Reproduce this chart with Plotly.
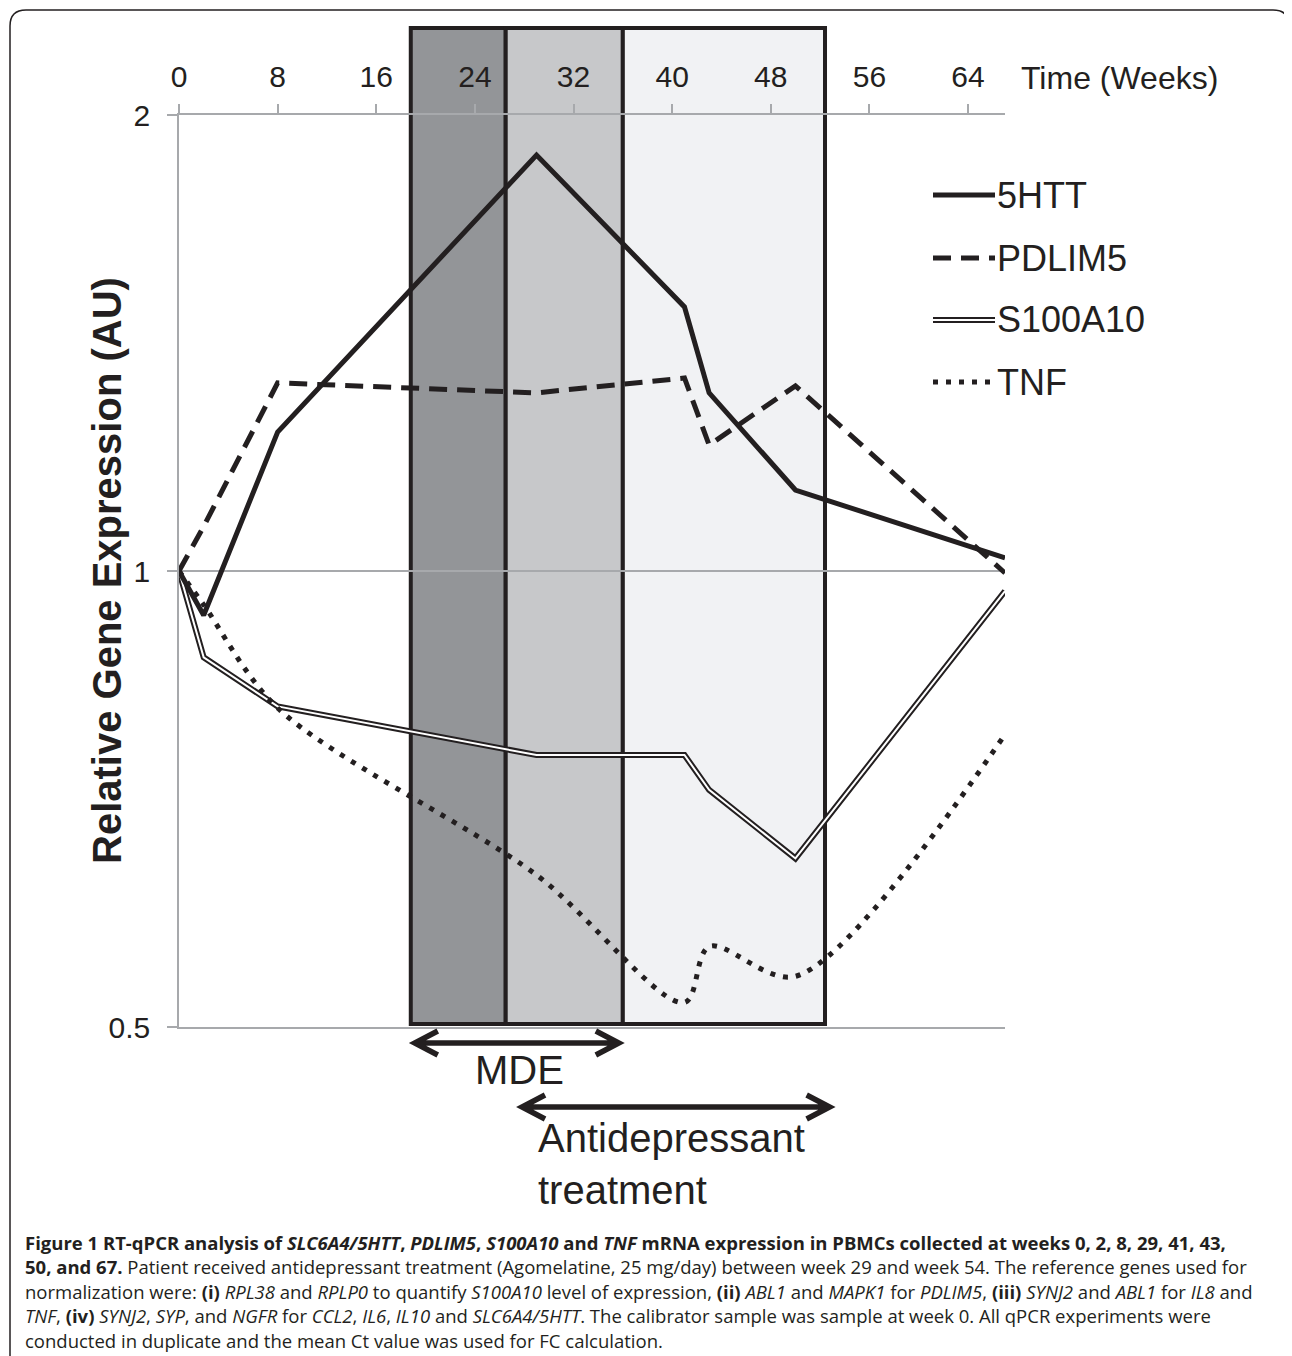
import plotly.graph_objects as go
import math

# ---------------- data ----------------
weeks = [0, 2, 8, 29, 41, 43, 50, 67]
htt5 = [1.00, 0.935, 1.235, 1.882, 1.494, 1.311, 1.131, 1.020]
pdlim5 = [1.00, 1.07, 1.331, 1.311, 1.341, 1.211, 1.325, 0.997]
s100a10 = [1.00, 0.877, 0.814, 0.756, 0.756, 0.717, 0.646, 0.970]
tnf = [1.00, 0.95, 0.812, 0.630, 0.519, 0.565, 0.540, 0.780]

x_ticks = [0, 8, 16, 24, 32, 40, 48, 56, 64]
y_ticks = [0.5, 1, 2]
y_ticktext = ["0.5", "1", "2"]

band_edges = [18.8, 26.5, 36.0, 52.4]          # weeks
band_colors = ["#939598", "#c7c8ca", "#f1f2f4"]
mde_weeks = [18.8, 36.0]
treatment_weeks = [27.5, 53.1]

legend_names = ["5HTT", "PDLIM5", "S100A10", "TNF"]

# ---------------- layout geometry (reference window pixels) ----------------
OFF = 8                      # page body margin
FW, FH = 1292 - OFF, 1356 - OFF
L, R, T, B = 179, 1005, 115, 1027
PW, PH = R - L, B - T
X_RANGE = [0, 67]
PX_PER_WEEK = PW / (X_RANGE[1] - X_RANGE[0])


def px_x(px):
    return (px - L) / PW


def px_y(py):
    return (B - py) / PH


INK = "#231f20"
GRID = "#a7a9ac"
FONT = "Liberation Sans, Arial, sans-serif"
CAP_FONT = "Open Sans, sans-serif"
DOT = "5px,8px"
DASH = "18px,10px"

fig = go.Figure()

# S100A10 double line
fig.add_trace(go.Scatter(x=weeks, y=s100a10, mode="lines", name="S100A10",
                         line=dict(color=INK, width=6), showlegend=False))
fig.add_trace(go.Scatter(x=weeks, y=s100a10, mode="lines", name="S100A10 inner",
                         line=dict(color="white", width=2), showlegend=False))
fig.add_trace(go.Scatter(x=weeks, y=tnf, mode="lines", name="TNF",
                         line=dict(color=INK, width=5, dash=DOT,
                                   shape="spline", smoothing=0.9),
                         showlegend=False))
fig.add_trace(go.Scatter(x=weeks, y=pdlim5, mode="lines", name="PDLIM5",
                         line=dict(color=INK, width=5, dash=DASH),
                         showlegend=False))
fig.add_trace(go.Scatter(x=weeks, y=htt5, mode="lines", name="5HTT",
                         line=dict(color=INK, width=5), showlegend=False))

shapes = []
annotations = []

# shaded period bands
for i in range(3):
    shapes.append(dict(type="rect", xref="x", yref="paper",
                       x0=band_edges[i], x1=band_edges[i + 1],
                       y0=px_y(1024), y1=px_y(28),
                       fillcolor=band_colors[i],
                       line=dict(color=INK, width=4), layer="between"))


# double arrows (tips inset slightly to compensate for the miter join)
def dbl_arrow(x0, x1, ypx):
    y = px_y(ypx)
    inset = 4 / PX_PER_WEEK
    x0, x1 = x0 + inset, x1 - inset
    dx = 23 / PX_PER_WEEK
    dy = 12 / PH
    path = (f"M {x0 + dx},{y + dy} L {x0},{y} L {x0 + dx},{y - dy} "
            f"M {x0},{y} L {x1},{y} "
            f"M {x1 - dx},{y + dy} L {x1},{y} L {x1 - dx},{y - dy}")
    return dict(type="path", xref="x", yref="paper", path=path,
                line=dict(color=INK, width=5.5), layer="above")


shapes.append(dbl_arrow(mde_weeks[0], mde_weeks[1], 1043))
shapes.append(dbl_arrow(treatment_weeks[0], treatment_weeks[1], 1107))

annotations.append(dict(text="MDE", xref="paper", yref="paper",
                        x=px_x(519), y=px_y(1070), xanchor="center", yanchor="middle",
                        showarrow=False, font=dict(family=FONT, size=40, color=INK)))
annotations.append(dict(text="Antidepressant<br>treatment", xref="paper", yref="paper",
                        x=px_x(536), y=px_y(1164), xanchor="left", yanchor="middle",
                        align="left", showarrow=False,
                        font=dict(family=FONT, size=40, color=INK)))

# axis title texts
annotations.append(dict(text="Time (Weeks)", xref="paper", yref="paper",
                        x=px_x(1019), y=px_y(78), xanchor="left", yanchor="middle",
                        showarrow=False, font=dict(family=FONT, size=32, color=INK)))
annotations.append(dict(text="<b>Relative Gene Expression (AU)</b>", xref="paper", yref="paper",
                        x=px_x(107), y=0.5, xanchor="center", yanchor="middle",
                        textangle=-90, showarrow=False,
                        font=dict(family=FONT, size=40, color=INK)))

# custom legend
leg_y = [195, 258, 320, 382]
lx0, lx1 = px_x(933), px_x(995)
styles = [dict(color=INK, width=5), dict(color=INK, width=5, dash=DASH),
          None, dict(color=INK, width=5, dash=DOT)]
for name, ypx, st in zip(legend_names, leg_y, styles):
    yy = px_y(ypx)
    if st is None:
        shapes.append(dict(type="line", xref="paper", yref="paper", x0=lx0, x1=lx1,
                           y0=yy, y1=yy, line=dict(color=INK, width=6)))
        shapes.append(dict(type="line", xref="paper", yref="paper", x0=lx0, x1=lx1,
                           y0=yy, y1=yy, line=dict(color="white", width=2)))
    else:
        shapes.append(dict(type="line", xref="paper", yref="paper", x0=lx0, x1=lx1,
                           y0=yy, y1=yy, line=st))
    annotations.append(dict(text=name, xref="paper", yref="paper",
                            x=px_x(995), y=yy, xanchor="left", yanchor="middle",
                            showarrow=False, font=dict(family=FONT, size=36, color=INK)))

# rounded outer frame
fx0, fx1, fy0, fy1, rr = 10, 1289, 10, 1400, 16
frame = (f"M {px_x(fx0)},{px_y(fy1)} L {px_x(fx0)},{px_y(fy0 + rr)} "
         f"Q {px_x(fx0)},{px_y(fy0)} {px_x(fx0 + rr)},{px_y(fy0)} "
         f"L {px_x(fx1 - rr)},{px_y(fy0)} "
         f"Q {px_x(fx1)},{px_y(fy0)} {px_x(fx1)},{px_y(fy0 + rr)} "
         f"L {px_x(fx1)},{px_y(fy1)}")
shapes.append(dict(type="path", xref="paper", yref="paper", path=frame,
                   line=dict(color=INK, width=1.5), layer="below"))

# caption
caption_lines = [
    "<b>Figure 1 RT-qPCR analysis of <i>SLC6A4/5HTT</i>, <i>PDLIM5</i>, <i>S100A10</i> and <i>TNF</i> "
    "mRNA expression in PBMCs collected at weeks 0, 2, 8, 29, 41, 43,</b>",
    "<b>50, and 67.</b> Patient received antidepressant treatment (Agomelatine, 25 mg/day) "
    "between week 29 and week 54. The reference genes used for",
    "normalization were: <b>(i)</b> <i>RPL38</i> and <i>RPLP0</i> to quantify <i>S100A10</i> level of "
    "expression, <b>(ii)</b> <i>ABL1</i> and <i>MAPK1</i> for <i>PDLIM5</i>, <b>(iii)</b> <i>SYNJ2</i> "
    "and <i>ABL1</i> for <i>IL8</i> and",
    "<i>TNF</i>, <b>(iv)</b> <i>SYNJ2</i>, <i>SYP</i>, and <i>NGFR</i> for <i>CCL2</i>, <i>IL6</i>, "
    "<i>IL10</i> and <i>SLC6A4/5HTT</i>. The calibrator sample was sample at week 0. All qPCR "
    "experiments were",
    "conducted in duplicate and the mean Ct value was used for FC calculation.",
]
for i, line in enumerate(caption_lines):
    annotations.append(dict(text=line, xref="paper", yref="paper",
                            x=px_x(23), y=px_y(1242 + 24.5 * i), xanchor="left", yanchor="middle",
                            align="left", showarrow=False,
                            font=dict(family=CAP_FONT, size=18.5, color=INK)))

fig.update_layout(
    width=FW, height=FH, autosize=False,
    margin=dict(l=L - OFF, r=FW - (R - OFF), t=T - OFF, b=FH - (B - OFF), pad=0),
    paper_bgcolor="white", plot_bgcolor="white",
    showlegend=False,
    shapes=shapes, annotations=annotations,
    xaxis=dict(side="top", range=X_RANGE, tickvals=x_ticks,
               ticktext=[str(v) for v in x_ticks],
               showline=True, mirror=True, linecolor=GRID, linewidth=1.5,
               ticks="outside", ticklen=9, tickwidth=1.5, tickcolor=GRID,
               showgrid=False, zeroline=False, ticklabelstandoff=5,
               tickfont=dict(family=FONT, size=30, color=INK)),
    yaxis=dict(type="log", range=[math.log10(0.5), math.log10(2)],
               tickvals=y_ticks, ticktext=y_ticktext,
               showline=True, linecolor=GRID, linewidth=1.5,
               showgrid=True, gridcolor=GRID, gridwidth=1.5,
               ticks="outside", ticklen=10, tickwidth=1.5, tickcolor=GRID,
               zeroline=False, ticklabelstandoff=11,
               tickfont=dict(family=FONT, size=30, color=INK)),
)

fig.write_html("out.html")
